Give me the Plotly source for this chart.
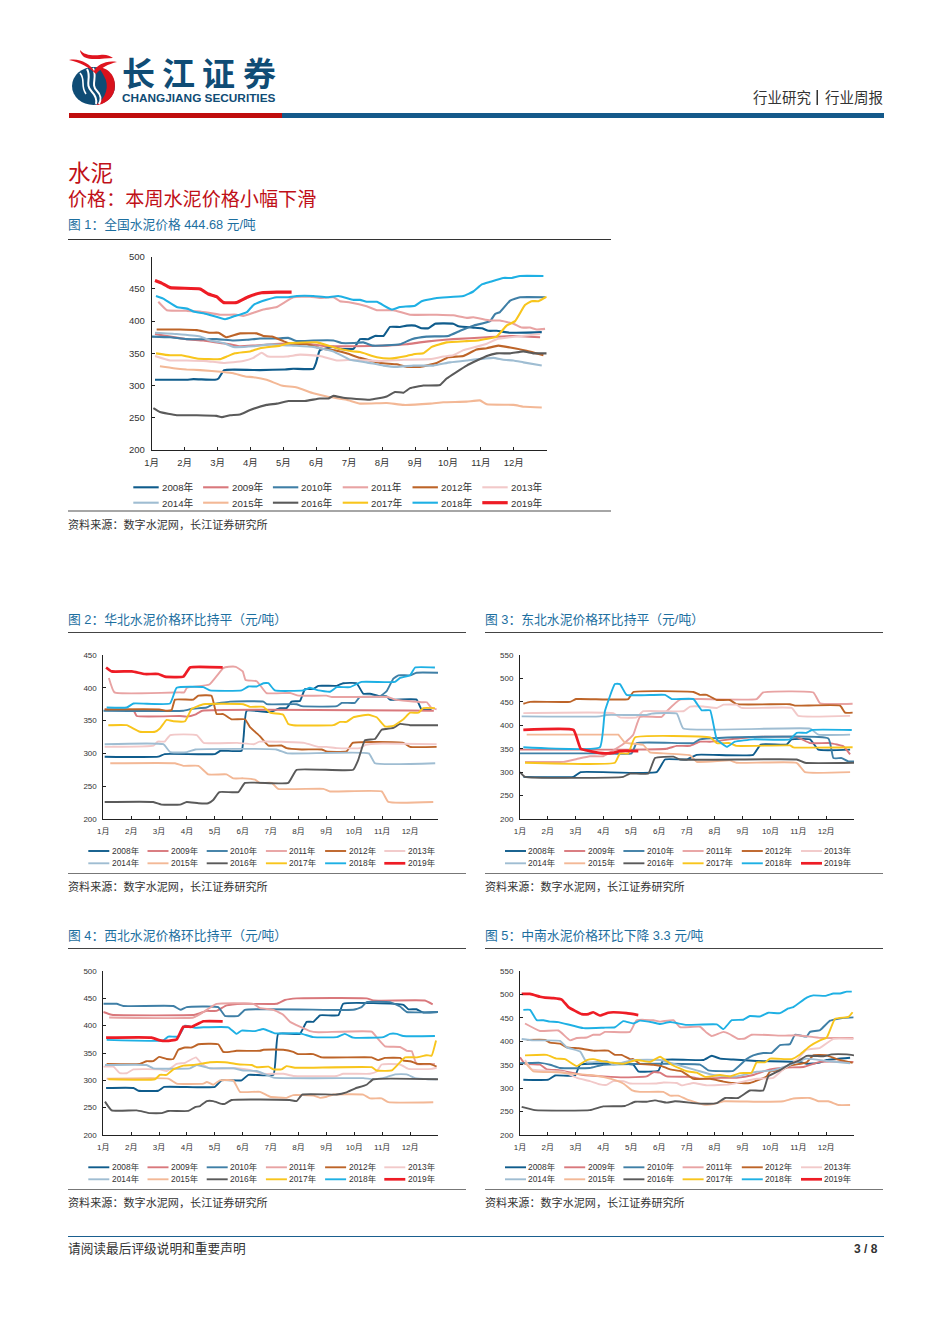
import plotly.graph_objects as go

# ---------- categories / ticks ----------
YEARS = ["2008年","2009年","2010年","2011年","2012年","2013年","2014年","2015年","2016年","2017年","2018年","2019年"]
MONTHS = ["1月","2月","3月","4月","5月","6月","7月","8月","9月","10月","11月","12月",""]
COLORS = ["#0f5c8c","#d9787c","#3f7fa6","#e8a3a3","#bd6428","#f2c9c9","#9fbdd2","#f3b896","#5a5a5a","#f8c51c","#1eb0e4","#ee1c25"]

# ---------- figure 1: national (month position, yuan/ton) ----------
A08=[(.1,309),(1.06,309),(1.27,310),(1.92,309),(2.03,311),(2.2,324),(3.29,324),(4.05,325),(4.3,326),(4.91,326),(4.99,335),(5.11,355),(5.52,360),(5.72,357),(6.13,357),(6.33,372),(6.58,372),(6.78,377),(7.04,377),(7.24,391),(7.54,391),(7.75,393),(8,393),(8.2,389),(8.41,389),(8.61,396),(9.16,396),(9.32,392),(9.77,390),(10.03,389),(10.23,385),(10.48,385),(10.89,382),(11.85,383)]
A09=[(.1,380),(.56,376),(1.06,372),(1.57,370),(2.08,366),(2.38,364),(2.68,361),(3.09,362),(3.9,365),(4.71,365),(5.32,361),(6.13,361),(7.14,362),(7.75,364),(8.15,367),(8.66,370),(9.16,372),(10.18,375),(10.99,377),(11.8,375)]
A10=[(0,376),(.56,375),(1.06,372),(1.97,372),(2.48,370),(2.89,371),(3.29,373),(3.8,373),(4.15,374),(4.41,369),(4.91,370),(5.52,370),(5.77,366),(6.13,366),(6.43,367),(6.73,362),(7.54,364),(7.9,372),(8.35,376),(9.01,377),(9.37,385),(9.77,393),(10.28,400),(10.43,411),(10.58,414),(10.89,432),(11.19,437),(11.95,437)]
A11=[(.2,430),(.46,417),(1.06,416),(1.47,415),(2.08,410),(2.58,410),(2.78,408),(3.09,413),(3.39,418),(3.8,422),(4,428),(4.3,437),(4.81,438),(5.11,436),(5.52,437),(5.72,431),(6.03,429),(6.53,423),(6.84,417),(7.34,417),(7.85,410),(8.66,410),(9.16,409),(9.57,405),(9.77,406),(10.28,401),(10.58,401),(10.99,396),(11.24,390),(11.49,390),(11.7,387),(11.95,388)]
A12=[(.15,387),(.86,387),(1.37,386),(1.77,382),(2.03,382),(2.26,375),(2.68,381),(3.19,381),(3.39,377),(3.65,376),(4,369),(4.2,365),(4.71,364),(5.11,358),(5.62,354),(5.92,350),(6.33,343),(6.94,335),(7.44,333),(7.75,329),(8.15,329),(8.66,335),(9.01,344),(9.47,346),(9.87,356),(10.18,358),(10.53,362),(10.89,359),(11.39,354),(11.9,347)]
A13=[(.1,346),(.56,339),(1.06,339),(1.67,338),(2.18,335),(2.78,338),(3.09,343),(3.34,351),(3.54,345),(4.1,345),(4.51,348),(5.11,346),(5.62,339),(6.13,340),(6.94,338),(7.65,340),(8.46,341),(8.86,345),(9.16,347),(9.47,355),(9.77,359),(10.18,365),(10.48,372),(10.89,375),(11.8,380)]
A14=[(.1,382),(.76,380),(1.47,376),(1.77,370),(2.18,366),(2.48,360),(3.09,361),(3.59,364),(4.3,362),(4.91,360),(5.52,353),(6.03,340),(6.53,336),(7.04,331),(7.44,329),(7.95,331),(8.56,331),(9.06,336),(9.57,339),(10.38,343),(10.68,340),(10.99,339),(11.29,336),(11.85,331)]
A15=[(.25,330),(.66,327),(1.06,325),(1.47,324),(2.18,321),(2.48,319),(2.84,314),(3.09,313),(3.49,309),(3.95,300),(4.41,297),(4.91,288),(5.32,283),(5.92,278),(6.33,272),(7.14,273),(7.65,270),(8.46,272),(8.86,274),(9.57,275),(9.97,277),(10.18,271),(10.99,270),(11.34,267),(11.85,266)]
A16=[(.05,265),(.25,259),(.76,254),(1.37,254),(1.97,253),(2.13,251),(2.38,254),(2.68,255),(2.99,262),(3.49,270),(3.8,272),(4.15,276),(4.66,276),(5.11,280),(5.37,280),(5.52,284),(5.82,281),(6.63,278),(7.14,283),(7.39,290),(7.65,289),(7.85,296),(8.25,300),(8.76,301),(8.96,311),(9.57,331),(10.18,346),(10.48,350),(10.89,350),(11.29,353),(11.59,350),(12,350)]
A17=[(.13,350),(.56,347),(.91,347),(1.37,342),(2.08,341),(2.28,345),(2.53,350),(2.99,353),(3.29,358),(3.9,362),(4.2,366),(5.01,367),(5.62,358),(6.13,353),(6.33,352),(6.84,344),(7.24,342),(7.75,346),(8,349),(8.25,350),(8.51,360),(8.96,367),(9.57,369),(9.92,370),(10.48,376),(10.78,393),(11.04,400),(11.34,425),(11.54,431),(11.75,431),(12,438)]
A18=[(.13,439),(.35,435),(.76,422),(1.11,419),(1.27,415),(1.67,411),(2.23,403),(2.48,407),(2.89,414),(3.09,425),(3.49,433),(3.8,437),(4.1,437),(4.41,439),(4.91,439),(5.32,437),(5.67,439),(6.13,433),(6.33,433),(6.53,430),(6.84,430),(7.29,418),(7.54,422),(8,424),(8.2,431),(8.66,436),(9.47,439),(9.77,446),(10.03,457),(10.28,461),(10.68,467),(10.94,467),(11.19,470),(11.9,470)]
A19=[(.1,463),(.3,459),(.56,452),(1.47,450),(1.72,442),(1.97,438),(2.18,429),(2.58,429),(2.94,438),(3.34,444),(3.8,445),(4.25,445)]

# ---------- figure 2: north ----------
B08=[(.05,295),(1.97,295),(2.2,299),(4,299),(4.2,304),(4.96,304),(5.03,325),(5.14,365),(5.98,363),(6.33,369),(6.57,369),(6.75,379),(7.05,380),(7.23,398),(7.53,398),(7.71,403),(8.37,403),(8.6,407),(9.08,407),(9.32,391),(9.56,391),(9.92,387),(10.16,387),(10.28,382),(11.23,382),(11.41,367),(11.77,367)]
B09=[(.05,367),(1.08,366),(1.2,357),(2.75,357),(2.99,356),(3.29,359),(3.55,365),(11.85,365)]
B10=[(0,365),(2.87,365),(3.17,368),(3.7,370),(3.94,375),(4.54,379),(5.74,379),(5.86,375),(6.93,375),(7.11,372),(8.37,372),(8.55,377),(9.02,377),(9.2,386),(9.92,387),(10.16,395),(10.4,414),(10.58,419),(11,419),(11.23,423),(12,423)]
B11=[(.2,415),(.4,393),(2.75,393),(2.9,393),(3,400),(3.8,405),(4.3,430),(4.5,432),(4.75,432),(5,425),(5.1,412),(5.5,410),(5.85,392),(6.7,392),(7,388),(8,388),(8.2,386),(10.2,386),(10.45,382),(11.4,378),(11.6,378),(11.75,370),(11.95,367)]
B12=[(.05,367),(2,367),(2.27,365),(2.45,366),(2.57,382),(3.23,382),(3.41,388),(3.88,388),(4.06,360),(4.3,360),(4.6,352),(5.08,352),(5.26,340),(5.62,326),(5.92,312),(6.39,312),(6.57,308),(7.11,306),(7.83,306),(8,303),(8.72,303),(8.94,316),(10.76,316),(11,310),(11.95,310)]
B13=[(.05,310),(.3,310),(1.8,312),(1.95,318),(2.2,318),(2.4,328),(3.35,328),(3.6,316),(4.8,316),(5.4,314),(5.6,318),(7.2,316),(7.7,310),(8,310),(8.4,308),(9.2,308),(9.4,313),(10,315),(11.95,314)]
B14=[(.05,314),(2.15,314),(2.4,302),(3,302),(3.3,306),(6.2,306),(6.6,300),(9.52,300),(9.74,285),(11.9,285)]
B15=[(.25,285),(2.57,285),(2.87,281),(3.41,281),(3.76,268),(4.42,268),(4.66,262),(5.02,262),(5.44,260),(5.62,255),(6.04,255),(6.27,246),(7.89,246),(8.13,242),(9.98,242),(10.22,226),(11.83,226)]
B16=[(.05,226),(1.79,226),(2.09,222),(2.75,222),(2.99,226),(3.41,224),(3.76,224),(3.94,229),(4.16,241),(4.84,241),(5.08,255),(6.63,255),(6.93,275),(8.96,275),(9.14,290),(9.38,320),(9.74,322),(9.98,336),(10.4,339),(10.64,345),(11,343),(12,343)]
B17=[(.18,343),(.84,343),(1.31,333),(1.85,333),(2.03,338),(2.27,351),(2.51,349),(2.93,349),(3.17,368),(3.59,375),(5.02,375),(5.26,371),(5.74,371),(5.98,362),(6.45,359),(6.63,345),(6.81,343),(8.25,343),(8.49,348),(8.72,348),(8.96,355),(9.5,359),(9.8,355),(10.1,341),(10.4,342),(10.76,352),(11,362),(11.3,362),(11.47,369),(11.89,369)]
B18=[(.12,370),(.84,370),(1.08,376),(2.39,376),(2.63,400),(3.59,401),(3.82,396),(4.96,396),(5.2,402),(5.5,402),(5.74,407),(5.92,407),(6.15,396),(7.17,396),(7.41,400),(7.71,396),(8.13,394),(8.37,401),(8.84,401),(9.26,409),(10.46,409),(10.64,415),(11,419),(11.18,431),(11.89,431)]
B19=[(.1,431),(.3,425),(1.02,425),(1.49,421),(1.97,421),(2.21,417),(2.87,417),(3.11,431),(4.28,431)]

# ---------- figure 3: northeast ----------
C08=[(.12,290),(1.92,290),(2.18,300),(4.91,300),(5.21,327),(5.99,327),(6.35,337),(8.38,337),(8.65,359),(9.58,359),(9.76,370),(10.42,370),(10.72,348),(11.86,348)]
C09=[(0,348),(3.95,348),(5.27,350),(5.63,356),(6.11,356),(6.47,365),(6.83,365),(7.54,370),(8.38,375),(9.94,375),(10.42,362),(11.14,362),(11.62,355),(11.86,338)]
C10=[(0,340),(3,340),(4.01,340),(4.19,362),(6.23,362),(6.47,370),(11.08,372),(11.26,330),(11.56,330),(11.8,323),(12,323)]
C11=[(.18,322),(1.56,322),(2.04,328),(2.51,334),(2.99,334),(3.71,360),(4.07,380),(4.31,418),(5.09,418),(5.27,430),(5.75,455),(6.47,456),(8.5,456),(8.74,470),(10.54,470),(10.78,447),(11.95,446)]
C12=[(.12,446),(.36,450),(1.8,450),(2.01,456),(3.89,456),(4.07,471),(6.23,471),(6.47,465),(6.71,465),(7.07,454),(7.54,454),(7.78,445),(9.7,445),(9.88,442),(11.5,442),(11.68,427),(11.95,427)]
C13=[(.12,426),(3.35,426),(3.59,417),(4.19,417),(4.43,430),(5.87,430),(6.11,440),(6.59,440),(7.07,437),(7.31,444),(7.78,444),(7.96,437),(9.76,437),(10,420),(11.86,420)]
C14=[(.06,419),(2.87,419),(3.11,422),(4.55,422),(4.73,425),(5.63,425),(5.87,393),(10.42,393),(10.72,380),(11.86,380)]
C15=[(.24,380),(3.41,380),(3.53,380),(3.77,363),(4.43,358),(4.67,342),(5.15,340),(6.11,336),(6.35,322),(7.54,325),(7.78,320),(9.94,320),(10.24,300),(11.86,300)]
C16=[(0,300),(.18,290),(3.71,290),(3.95,297),(4.61,297),(4.85,330),(5.51,333),(5.75,327),(9.94,327),(10.24,320),(12,320)]
C17=[(.18,320),(3.41,320),(3.59,340),(3.89,340),(4.13,374),(6.83,374),(7.07,362),(7.54,362),(7.78,356),(9.7,357),(9.82,353),(11.95,353)]
C18=[(.12,353),(2.87,353),(3.05,430),(3.41,488),(3.59,488),(3.83,465),(5.21,465),(5.45,456),(6.23,456),(6.53,432),(6.83,432),(7.07,370),(7.43,354),(7.72,365),(8.38,370),(9.7,370),(9.94,384),(10.3,384),(10.48,390),(11.92,390)]
C19=[(.12,390),(1.92,390),(2.18,350),(2.51,345),(3.05,340),(3.35,341),(3.59,345),(4.25,345)]

# ---------- figure 4: northwest ----------
D08=[(.1,286),(1.08,286),(1.26,281),(1.97,281),(2.18,288),(4,288),(4.24,300),(4.96,300),(5.2,310),(6.1,310),(6.27,385),(7.05,385),(7.29,407),(7.53,407),(7.77,419),(8.43,419),(8.6,440),(10.76,438),(10.94,430),(11.23,430),(11.47,424),(12,425)]
D09=[(0,425),(.3,420),(3.29,420),(3.7,427),(4.06,427),(4.42,437),(5.02,440),(6.21,440),(6.51,447),(6.93,450),(9.44,450),(9.68,446),(11.53,446),(11.81,439)]
D10=[(0,440),(.48,440),(.72,436),(2.51,436),(2.77,429),(2.99,434),(4.12,434),(4.36,418),(4.84,418),(5.08,429),(8.96,429),(9.26,434),(9.44,443),(10.28,443),(10.64,435),(10.88,425),(12,425)]
D11=[(.21,415),(3.23,415),(3.59,425),(4.06,440),(5.38,440),(5.62,432),(6.1,429),(6.45,420),(6.69,407),(7.41,390),(7.71,388),(9.62,389),(9.86,375),(10.1,362),(10.64,361),(10.88,354),(11.06,353),(11.23,330),(11.89,330)]
D12=[(.12,330),(1.31,330),(1.55,335),(1.79,335),(2,343),(2.27,339),(2.51,339),(2.69,356),(2.93,360),(3.17,360),(3.41,366),(4.12,366),(4.3,352),(4.54,352),(4.78,354),(5.62,354),(5.74,356),(6.45,356),(6.81,352),(6.99,348),(7.53,348),(7.83,342),(9.62,342),(9.86,337),(10.1,341),(10.64,341),(10.76,336),(11,335),(11.29,330),(11.71,330),(11.95,325)]
D13=[(0,325),(.36,325),(.6,313),(.84,313),(1.08,320),(2.03,320),(2.27,317),(2.63,330),(2.93,332),(3.32,342),(3.53,330),(3.82,322),(4.78,322),(5.26,319),(5.74,312),(6.45,312),(6.81,308),(8.37,308),(8.6,312),(9.56,312),(9.8,316),(9.98,329),(10.64,329),(10.94,321),(11.77,321),(11.95,323)]
D14=[(.06,328),(1.55,328),(1.79,322),(3.11,322),(3.35,328),(3.82,322),(4.66,322),(5.02,318),(5.5,317),(6.1,305),(9.32,304),(9.68,302),(10.16,306),(10.46,311),(10.88,311),(11.18,304),(11.65,302),(11.95,302)]
D15=[(.12,303),(2.33,303),(2.63,294),(3.59,294),(3.71,297),(3.94,292),(4.18,300),(4.66,300),(4.9,279),(5.62,279),(5.98,270),(6.57,268),(6.81,273),(7.53,272),(7.77,268),(8.01,270),(8.25,274),(9.32,274),(9.56,267),(9.98,267),(10.22,260),(11.83,260)]
D16=[(.06,261),(.3,245),(1.2,245),(1.67,240),(2.09,240),(2.33,244),(3.05,244),(3.29,251),(3.47,253),(3.71,262),(3.94,262),(4.24,257),(4.36,257),(4.6,264),(6.69,264),(6.93,262),(7.13,274),(8.37,274),(8.72,278),(9.02,285),(9.44,292),(9.68,302),(12,302)]
D17=[(.18,302),(1.85,302),(2.03,310),(2.27,310),(2.51,320),(2.87,327),(3.23,328),(3.82,333),(4.36,333),(4.9,329),(5.32,328),(5.5,324),(5.92,325),(6.1,320),(6.39,320),(6.57,326),(6.87,323),(9.62,324),(9.8,318),(10.34,318),(10.58,330),(10.82,342),(11.23,342),(11.59,346),(11.77,345),(11.93,373)]
D18=[(.12,374),(2.15,373),(2.33,380),(2.69,380),(2.93,400),(3.29,396),(3.59,397),(4.48,397),(4.78,385),(4.96,391),(5.44,390),(5.74,394),(6.15,386),(7.05,386),(7.53,379),(8.37,379),(8.66,385),(8.96,378),(10.04,379),(10.28,385),(10.52,385),(10.76,381),(11.89,381)]
D19=[(.1,378),(1.73,378),(2.03,373),(2.27,372),(2.63,375),(2.87,398),(3.17,398),(3.59,408),(4.28,408)]

# ---------- figure 5: central south ----------
E08=[(.12,318),(1.02,318),(1.26,327),(1.98,327),(2.16,350),(4.07,350),(4.25,336),(4.97,337),(5.15,360),(6.59,360),(6.89,369),(7.19,363),(7.66,361),(8.5,358),(10.06,356),(10.3,352),(10.72,354),(11.02,360),(11.86,365)]
E09=[(0,366),(.18,352),(.72,350),(.96,340),(1.44,338),(2.28,328),(3.71,323),(4.55,325),(4.79,334),(5.03,333),(5.27,325),(6.11,324),(6.47,320),(7.19,322),(7.78,322),(8.38,328),(8.98,340),(9.58,344),(10.18,345),(10.78,356),(11.98,356)]
E10=[(0,353),(.72,354),(1.08,350),(1.44,343),(2.51,343),(2.99,350),(4.91,352),(5.27,352),(6.47,350),(6.77,338),(7.66,337),(8.14,362),(8.38,370),(8.74,375),(9.04,375),(9.34,392),(9.7,394),(9.88,414),(10.3,410),(10.42,420),(10.78,424),(11.14,444),(11.62,450),(11.98,451)]
E11=[(.18,438),(.72,422),(1.38,423),(1.8,402),(2.04,407),(2.4,408),(2.63,414),(2.87,414),(3.05,420),(3.95,420),(4.19,445),(4.79,445),(5.03,442),(5.51,445),(5.75,430),(6.47,431),(6.71,418),(6.89,411),(7.31,420),(7.54,415),(7.84,405),(8.08,406),(8.32,414),(9.46,412),(9.94,413),(10.54,409),(10.9,407),(11.98,407)]
E12=[(.24,403),(.9,403),(1.08,397),(1.44,395),(1.68,387),(2.1,385),(2.63,380),(3.17,380),(3.41,371),(3.65,371),(3.95,362),(4.07,362),(4.31,352),(4.79,350),(5.09,347),(5.39,340),(5.81,336),(6.23,320),(6.83,320),(7.31,314),(7.66,311),(8.26,311),(8.86,325),(8.98,335),(9.46,340),(9.7,348),(10.3,355),(10.54,370),(11.02,370),(11.38,362),(11.95,354)]
E13=[(.18,360),(.42,340),(1.56,335),(2.04,322),(2.51,315),(2.87,308),(3.11,307),(3.35,315),(3.71,315),(3.95,310),(4.91,310),(5.15,312),(5.63,311),(5.81,306),(6.23,311),(6.71,306),(7.54,308),(8.5,320),(9.1,322),(9.46,340),(9.94,360),(10.3,382),(10.78,386),(11.26,405),(11.98,405)]
E14=[(.06,405),(.48,402),(1.44,401),(1.68,387),(2.16,378),(2.4,355),(3.11,358),(3.35,350),(4.07,360),(5.03,360),(5.63,350),(6.35,338),(6.95,328),(7.78,325),(8.5,335),(9.1,338),(9.7,350),(10.3,363),(11.02,358),(11.86,353)]
E15=[(.18,355),(.48,336),(1.32,334),(2.04,330),(2.51,328),(3.05,323),(3.47,316),(3.71,310),(4.01,296),(4.31,292),(5.15,292),(5.39,284),(5.69,284),(5.99,276),(6.59,265),(6.95,266),(7.31,272),(8.5,271),(9.46,272),(9.82,278),(10.42,279),(10.72,272),(11.08,272),(11.44,264),(11.86,264)]
E16=[(.06,260),(.54,253),(2.51,253),(2.99,261),(3.77,262),(4.13,271),(4.55,271),(4.85,274),(5.27,269),(5.57,272),(6.47,267),(7.07,268),(7.37,279),(7.84,279),(8.26,295),(8.74,295),(8.92,325),(9.34,338),(9.7,352),(10,358),(10.3,369),(10.9,368),(11.2,372),(11.74,372),(12,370)]
E17=[(.18,370),(.96,371),(1.32,363),(1.62,362),(2.04,347),(2.4,360),(2.63,362),(2.99,357),(3.71,352),(4.19,360),(4.67,356),(5.03,367),(5.45,350),(5.99,336),(6.35,333),(6.65,324),(7.19,328),(7.54,325),(7.9,332),(8.32,333),(8.5,355),(8.8,355),(8.98,363),(9.76,362),(10.06,372),(10.42,390),(10.78,402),(11.02,408),(11.32,448),(11.8,452),(11.95,462)]
E18=[(.12,467),(.36,467),(.6,445),(.84,445),(1.08,442),(1.38,441),(2.28,428),(3,429),(3.41,430),(3.71,443),(4.07,438),(4.31,444),(4.79,440),(5.03,437),(5.39,441),(5.99,435),(7.07,436),(7.31,426),(7.61,445),(8.02,446),(8.26,454),(8.62,453),(8.92,461),(9.34,460),(9.64,470),(9.82,473),(10.3,493),(10.54,498),(10.96,497),(11.26,502),(11.5,502),(11.74,506),(11.92,506)]
E19=[(.06,501),(.36,501),(.72,495),(.9,493),(1.2,492),(1.5,489),(1.74,473),(2.22,458),(2.46,458),(2.63,462),(2.87,455),(3.17,461),(3.35,462),(3.83,460),(4.25,456)]

SERIES_1=[A08,A09,A10,A11,A12,A13,A14,A15,A16,A17,A18,A19]
SERIES_2=[B08,B09,B10,B11,B12,B13,B14,B15,B16,B17,B18,B19]
SERIES_3=[C08,C09,C10,C11,C12,C13,C14,C15,C16,C17,C18,C19]
SERIES_4=[D08,D09,D10,D11,D12,D13,D14,D15,D16,D17,D18,D19]
SERIES_5=[E08,E09,E10,E11,E12,E13,E14,E15,E16,E17,E18,E19]

W, H = 950, 1344
OFF = 8  # body margin of the page
FW, FH = W-2*OFF, H-2*OFF
def px(x): return (x-OFF)/FW
def py(y): return 1-(y-OFF)/FH

FONT="Liberation Sans, Noto Sans CJK SC, sans-serif"
DARK="#333333"
PANELS=[
 dict(l=151.7,r=546.7,t=256.7,b=450,ymin=200,ymax=500,s=SERIES_1,fs=9.5,lw=2.1,lw19=3.2,lx=133.3,ll=25.4,tx=161.7,pitch=69.8,ry=(487.3,502.7),lfs=9.7,ys=4,xs=4),
 dict(l=103.3,r=438,t=655,b=819,ymin=200,ymax=450,s=SERIES_2,fs=8,lw=1.9,lw19=2.7,lx=88.3,ll=21,tx=111.7,pitch=59.2,ry=(851,863.3),lfs=8.4,ys=4,xs=4),
 dict(l=520,r=854,t=655,b=819,ymin=200,ymax=550,s=SERIES_3,fs=8,lw=1.9,lw19=2.7,lx=505,ll=21,tx=528.3,pitch=59.2,ry=(851,863.3),lfs=8.4,ys=4,xs=4),
 dict(l=103.3,r=438,t=971,b=1135,ymin=200,ymax=500,s=SERIES_4,fs=8,lw=1.9,lw19=2.7,lx=88.3,ll=21,tx=111.7,pitch=59.2,ry=(1167.3,1179.3),lfs=8.4,ys=4,xs=4),
 dict(l=520,r=854,t=971,b=1135,ymin=200,ymax=550,s=SERIES_5,fs=8,lw=1.9,lw19=2.7,lx=505,ll=21,tx=528.3,pitch=59.2,ry=(1167.3,1179.3),lfs=8.4,ys=4,xs=4),
]

fig=go.Figure()
layout=dict(width=FW,height=FH,margin=dict(l=0,r=0,t=0,b=0,pad=0,autoexpand=False),paper_bgcolor="white",plot_bgcolor="rgba(0,0,0,0)",showlegend=False,font=dict(family=FONT,color=DARK))
shapes=[]; ann=[]

def text(x,y,s,size,color=DARK,xa="left",bold=False,family=FONT):
    t=f"<b>{s}</b>" if bold else s
    ann.append(dict(x=px(x),y=py(y),xref="paper",yref="paper",text=t,showarrow=False,xanchor=xa,yanchor="middle",
                    font=dict(size=size,color=color,family=family),borderpad=0,borderwidth=0))
def hline(x0,x1,y,color,w):
    shapes.append(dict(type="line",xref="paper",yref="paper",x0=px(x0),x1=px(x1),y0=py(y),y1=py(y),line=dict(color=color,width=w)))
def rect(x0,x1,y0,y1,color):
    shapes.append(dict(type="rect",xref="paper",yref="paper",x0=px(x0),x1=px(x1),y0=py(y0),y1=py(y1),fillcolor=color,line=dict(width=0)))
def path(points,fill=None,color=None,w=1):
    out=[]
    for p in points:
        cmd=p[0]; c=p[1:]
        out.append(cmd+" "+" ".join(f"{px(c[i]):.5f} {py(c[i+1]):.5f}" for i in range(0,len(c),2)))
    s=dict(type="path",xref="paper",yref="paper",path=" ".join(out)+(" Z" if fill else ""),line=dict(width=w if color else 0,color=color or "rgba(0,0,0,0)"))
    if fill: s["fillcolor"]=fill
    shapes.append(s)

for i,p in enumerate(PANELS):
    n="" if i==0 else str(i+1)
    for j,(pts,name) in enumerate(zip(p["s"],YEARS)):
        fig.add_trace(go.Scatter(x=[a for a,_ in pts],y=[b for _,b in pts],mode="lines",name=name,xaxis="x"+n,yaxis="y"+n,hoverinfo="skip",
            line=dict(color=COLORS[j],width=p["lw19"] if j==11 else p["lw"],shape="spline",smoothing=0.35)))
    layout["xaxis"+n]=dict(domain=[px(p["l"]),px(p["r"])],range=[0,12],anchor="y"+n,tickvals=list(range(13)),ticktext=MONTHS,
        ticks="inside",ticklen=3,tickwidth=0.8,tickcolor="#222",showline=True,linecolor="#222",linewidth=0.9,showgrid=False,zeroline=False,
        tickfont=dict(size=p["fs"],color=DARK),tickangle=0,ticklabelstandoff=p["xs"])
    layout["yaxis"+n]=dict(domain=[py(p["b"]),py(p["t"])],range=[p["ymin"],p["ymax"]],anchor="x"+n,dtick=50,tick0=200,
        ticks="inside",ticklen=3,tickwidth=0.8,tickcolor="#222",showline=True,linecolor="#222",linewidth=0.9,showgrid=False,zeroline=False,
        tickfont=dict(size=p["fs"],color=DARK),ticklabelstandoff=p["ys"])
    for j,name in enumerate(YEARS):
        col=j%6; row=j//6
        yy=p["ry"][row]
        x0=p["lx"]+col*p["pitch"]
        hline(x0,x0+p["ll"],yy,COLORS[j],(p["lw19"] if j==11 else p["lw"]))
        text(p["tx"]+col*p["pitch"],yy,name,p["lfs"])

BLUE_T="#1d6f9f"; RED_T="#c01018"; NAVY="#0f4c75"
rect(69,282,113,118,"#c00d0d")
rect(282,884,113,118,"#14598a")
text(753,97.5,"行业研究",14.5,"#333333")
rect(816.5,818,90,105,"#333333")
text(825,97.5,"行业周报",14.5,"#333333")
# logo
shapes.append(dict(type="circle",xref="paper",yref="paper",x0=px(72),x1=px(115),y0=py(105),y1=py(67),fillcolor=NAVY,line=dict(width=0)))
path([("M",98,67),("C",110,68,117,78,114.5,90),("C",112.5,99,104,105,96,105),("C",106,98,110,86,104,76),("C",102,72,100,69,98,67)],fill="#d8121c")
path([("M",87,69),("C",92,78,84,84,92,92),("C",96,96,97,99,96,104)],color="white",w=2)
path([("M",93,68),("C",98,78,90,84,97,91),("C",102,96,101,100,99,104)],color="white",w=2)
path([("M",80,73),("C",86,80,80,86,86,94)],color="white",w=1.6)
path([("M",69,60),("C",80,58,90,64,94,71),("C",97,65,106,60,117,62),("C",108,64,101,68,96,74),("C",90,68,80,62,69,60)],fill="#e0151f")
path([("M",80,50),("C",84,55,92,56,100,55),("C",106,54,110,56,113,58),("C",104,58,92,61,84,57),("C",82,55,80,53,80,50)],fill="#e0151f")
for k,ch in enumerate("长江证券"):
    text(122+k*40.2,74.5,ch,33,NAVY,bold=True)
text(122,98,"CHANGJIANG SECURITIES",11.8,NAVY,bold=True)
# titles
text(68,173,"水泥",22.6,RED_T)
text(68,199,"价格：本周水泥价格小幅下滑",19.1,RED_T)
text(68,224.5,"图 1：全国水泥价格 444.68 元/吨",12.75,BLUE_T)
hline(68,611,239.5,"#333333",1)
hline(68,611,511,"#888888",1.4)
text(68,524.5,"资料来源：数字水泥网，长江证券研究所",11.1,DARK)
for (x,yt,s) in [(68,619.5,"图 2：华北水泥价格环比持平（元/吨）"),(485,619.5,"图 3：东北水泥价格环比持平（元/吨）"),
                 (68,935.5,"图 4：西北水泥价格环比持平（元/吨）"),(485,935.5,"图 5：中南水泥价格环比下降 3.3 元/吨")]:
    text(x,yt,s,12.8,BLUE_T)
    hline(x,x+398,yt+13,"#444444",1)
    hline(x,x+398,yt+254,"#777777",1.2)
    text(x,yt+267,"资料来源：数字水泥网，长江证券研究所",11.1,DARK)
hline(68,884,1236.5,"#1a5f8f",1)
text(68,1248.5,"请阅读最后评级说明和重要声明",12.7,DARK)
text(878,1248.5,"3 / 8",12,DARK,xa="right",bold=True)

layout["shapes"]=shapes
layout["annotations"]=ann
fig.update_layout(**layout)
fig.write_html("out.html")
